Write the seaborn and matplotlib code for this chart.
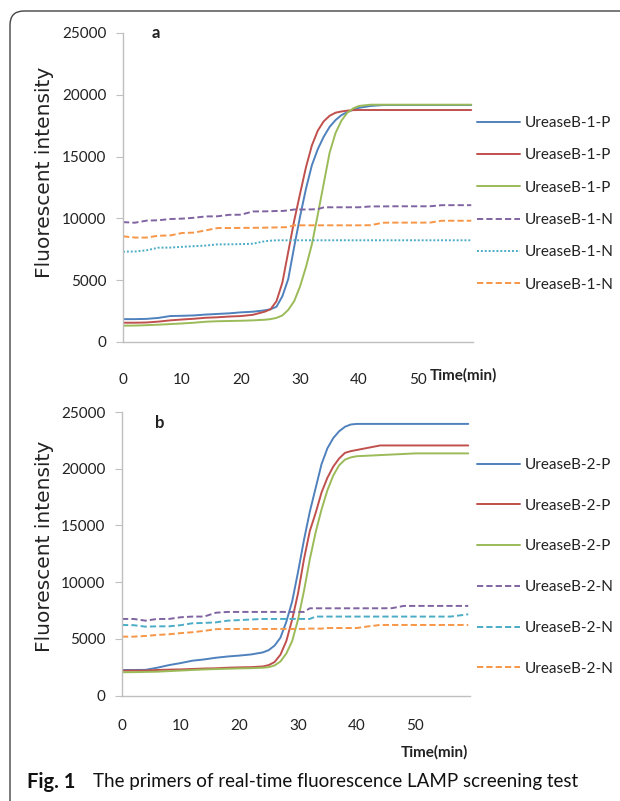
import numpy as np
import pandas as pd
import matplotlib
matplotlib.use("Agg")
import matplotlib.pyplot as plt
import seaborn as sns
from matplotlib.patches import FancyBboxPatch
from matplotlib.transforms import IdentityTransform

# ---------------- data ----------------
time_min = [0, 2, 4, 6, 8, 10, 12, 14, 16, 18, 20, 22, 24, 25, 26, 27, 28, 29, 30, 31,
            32, 33, 34, 35, 36, 37, 38, 39, 40, 42, 44, 46, 48, 50, 52, 54, 56, 59]

a_labels = ["UreaseB-1-P", "UreaseB-1-P", "UreaseB-1-P", "UreaseB-1-N", "UreaseB-1-N", "UreaseB-1-N"]
a_p1 = [1850, 1850, 1870, 1950, 2100, 2120, 2150, 2220, 2270, 2320, 2400, 2450, 2560, 2650, 2850, 3700,
        5100, 7690, 10150, 12400, 14300, 15600, 16600, 17400, 17950, 18350, 18600, 18800, 18950, 19100,
        19170, 19170, 19170, 19170, 19170, 19170, 19170, 19170]
a_p2 = [1560, 1560, 1580, 1650, 1750, 1820, 1880, 1960, 2000, 2060, 2100, 2200, 2450, 2650, 3300, 4800,
        7300, 9800, 12000, 14140, 15900, 17100, 17850, 18300, 18550, 18650, 18720, 18760, 18770,
        18770, 18770, 18770, 18770, 18770, 18770, 18770, 18770, 18770]
a_p3 = [1320, 1330, 1360, 1400, 1450, 1500, 1560, 1640, 1680, 1700, 1720, 1750, 1800, 1850, 1950, 2150,
        2600, 3300, 4500, 6070, 7900, 10300, 12800, 15300, 16900, 17900, 18550, 18900, 19100, 19200,
        19200, 19200, 19200, 19200, 19200, 19200, 19200, 19200]
a_n1 = [9700, 9650, 9820, 9850, 9950, 9980, 10050, 10160, 10170, 10290, 10300, 10560, 10570, 10580,
        10600, 10600, 10650, 10720, 10720, 10720, 10730, 10750, 10890, 10900, 10900, 10900, 10900,
        10900, 10900, 10970, 10970, 10980, 10980, 10980, 10980, 11070, 11070, 11070]
a_n2 = [7310, 7320, 7420, 7630, 7640, 7700, 7750, 7800, 7900, 7900, 7920, 7950, 8150, 8200, 8230,
        8230, 8230, 8230, 8230, 8230, 8230, 8230, 8230, 8230, 8230, 8230, 8230, 8230, 8230, 8230,
        8230, 8230, 8230, 8230, 8230, 8230, 8230, 8230]
a_n3 = [8550, 8450, 8450, 8600, 8620, 8820, 8850, 9030, 9220, 9220, 9230, 9240, 9250, 9260, 9270,
        9280, 9300, 9440, 9440, 9440, 9440, 9440, 9440, 9440, 9440, 9440, 9440, 9440, 9440, 9450,
        9650, 9660, 9660, 9660, 9660, 9810, 9810, 9810]

b_labels = ["UreaseB-2-P", "UreaseB-2-P", "UreaseB-2-P", "UreaseB-2-N", "UreaseB-2-N", "UreaseB-2-N"]
b_p1 = [2250, 2250, 2260, 2450, 2680, 2860, 3070, 3180, 3330, 3440, 3520, 3620, 3800, 4000, 4400,
        5100, 6500, 8300, 10900, 13700, 16200, 18300, 20400, 21800, 22700, 23300, 23700, 23900, 23950,
        23950, 23950, 23950, 23950, 23950, 23950, 23950, 23950, 23950]
b_p2 = [2190, 2200, 2200, 2250, 2280, 2300, 2340, 2380, 2400, 2450, 2480, 2500, 2560, 2680, 2950,
        3600, 4800, 6700, 9020, 12000, 14500, 16100, 17900, 19200, 20190, 20900, 21400, 21550, 21650,
        21850, 22050, 22050, 22050, 22050, 22050, 22050, 22050, 22050]
b_p3 = [2050, 2060, 2080, 2100, 2150, 2200, 2250, 2300, 2330, 2360, 2390, 2410, 2450, 2500, 2650,
        3000, 3700, 4800, 6700, 9200, 12000, 14400, 16400, 18100, 19400, 20300, 20800, 21000, 21100,
        21150, 21200, 21250, 21300, 21350, 21350, 21350, 21350, 21350]
b_n1 = [6750, 6750, 6600, 6750, 6750, 6900, 6960, 6960, 7300, 7370, 7370, 7370, 7370, 7370, 7370,
        7370, 7370, 7370, 7370, 7370, 7690, 7690, 7690, 7690, 7690, 7690, 7690, 7690, 7690, 7690,
        7690, 7700, 7900, 7900, 7900, 7900, 7900, 7900]
b_n2 = [6220, 6200, 6070, 6100, 6100, 6200, 6370, 6400, 6450, 6600, 6650, 6700, 6750, 6750, 6750,
        6750, 6750, 6750, 6750, 6750, 6750, 6960, 6960, 6960, 6960, 6960, 6960, 6960, 6960, 6960,
        6960, 6960, 6960, 6960, 6960, 6960, 6960, 7160]
b_n3 = [5190, 5190, 5250, 5340, 5400, 5500, 5580, 5700, 5850, 5870, 5870, 5870, 5870, 5870, 5870,
        5870, 5870, 5870, 5870, 5870, 5900, 5900, 5900, 5950, 5950, 5950, 5950, 5950, 5950, 6100,
        6220, 6220, 6220, 6220, 6220, 6220, 6220, 6220]

y_ticks = [0, 5000, 10000, 15000, 20000, 25000]
x_ticks = [0, 10, 20, 30, 40, 50]

# ---------------- style ----------------
sns.set_theme(style="white")
plt.rcParams["font.family"] = ["Lato", "DejaVu Sans"]

BLUE, RED, GREEN = "#4F81BD", "#C0504D", "#9BBB59"
PURPLE, CYAN, ORANGE = "#8064A2", "#4BACC6", "#F79646"
DASH = (0, (3.2, 1.6))
DOT = (0, (1, 1))

W, H = 620, 801
fig = plt.figure(figsize=(W / 100, H / 100), dpi=100)
fig.patch.set_facecolor("white")

def px(x0, y0, x1, y1):
    return [x0 / W, 1 - y1 / H, (x1 - x0) / W, (y1 - y0) / H]

ax_a = fig.add_axes(px(123, 33, 473, 342))
ax_b = fig.add_axes(px(122, 412, 470, 695.5))

series_a = [(a_p1, BLUE, "-"), (a_p2, RED, "-"), (a_p3, GREEN, "-"),
            (a_n1, PURPLE, DASH), (a_n2, CYAN, DOT), (a_n3, ORANGE, DASH)]
series_b = [(b_p1, BLUE, "-"), (b_p2, RED, "-"), (b_p3, GREEN, "-"),
            (b_n1, PURPLE, DASH), (b_n2, CYAN, DASH), (b_n3, ORANGE, DASH)]

def draw(ax, series, labels, xpad, leg_top, leg_space, tag, tag_xy, tl_xy):
    for (vals, col, ls), lab in zip(series, labels):
        df = pd.DataFrame({"t": time_min, "v": vals})
        sns.lineplot(data=df, x="t", y="v", ax=ax, color=col, linestyle=ls,
                     linewidth=1.4, label=lab, estimator=None)
    ax.set_xlim(0, 59.3)
    ax.set_ylim(0, 25000)
    ax.set_xticks(x_ticks)
    ax.set_yticks(y_ticks)
    ax.set_xlabel("")
    ax.set_ylabel("")
    for s in ["top", "right"]:
        ax.spines[s].set_visible(False)
    for s in ["left", "bottom"]:
        ax.spines[s].set_color("#BFBFBF")
        ax.spines[s].set_linewidth(1.0)
    ax.tick_params(axis="y", length=5, width=0.8, color="#BFBFBF", pad=7,
                   labelsize=11, labelcolor="#222222", left=True)
    ax.tick_params(axis="x", length=0, pad=xpad, labelsize=11, labelcolor="#222222")
    ax.set_facecolor("white")
    leg = ax.legend(loc="upper left", bbox_to_anchor=(477 / W, 1 - leg_top / H),
                    bbox_transform=fig.transFigure, frameon=False, fontsize=11,
                    handlelength=2.8, handletextpad=0.35, labelspacing=leg_space,
                    borderpad=0, borderaxespad=0)
    for t in leg.get_texts():
        t.set_color("#222222")
    fig.text(tag_xy[0] / W, 1 - tag_xy[1] / H, tag, fontsize=12, fontweight="bold",
             color="#222222", ha="center", va="center")
    fig.text(tl_xy[0] / W, 1 - tl_xy[1] / H, "Time(min)", fontsize=11, fontweight="bold",
             color="#222222", ha="left", va="center")
    return ax

draw(ax_a, series_a, a_labels, 22, 116, 1.2, "a", (156, 33), (430, 375))
draw(ax_b, series_b, b_labels, 17, 458, 1.75, "b", (160, 423), (401, 752))

for yc in (172, 546):
    fig.text(45 / W, 1 - yc / H, "Fluorescent intensity", rotation=90,
             fontsize=14.5, family="DejaVu Sans", color="#222222",
             ha="center", va="center")

# caption
fig.text(27 / W, 1 - 782 / H, "Fig. 1", fontsize=14.5, fontweight="bold",
         color="#111111", ha="left", va="center")
fig.text(93 / W, 1 - 782 / H,
         "The primers of real-time fluorescence LAMP screening test",
         fontsize=13.5, color="#111111", ha="left", va="center")

# rounded frame
frame = FancyBboxPatch((10, -60), 720, H - 11 + 60,
                       boxstyle="round,pad=0,rounding_size=14",
                       transform=IdentityTransform(), facecolor="none",
                       edgecolor="#444444", linewidth=1.0)
fig.patches.append(frame)

fig.savefig("out.png", dpi=100)
